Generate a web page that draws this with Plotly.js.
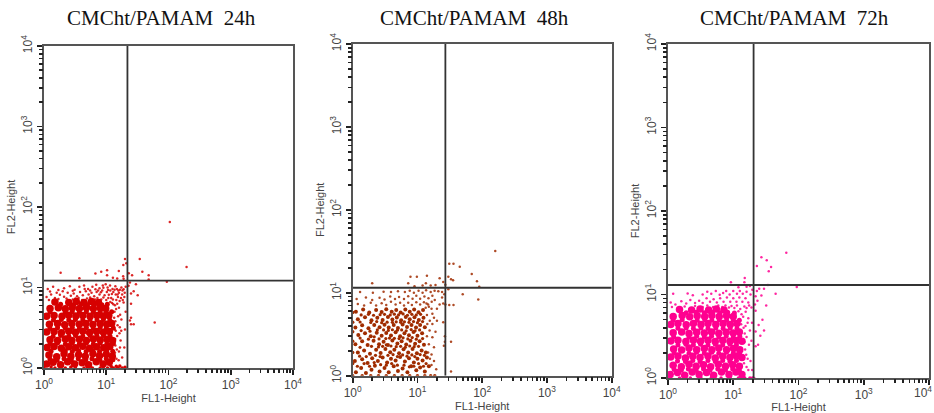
<!DOCTYPE html>
<html><head><meta charset="utf-8">
<script src="https://cdn.plot.ly/plotly-3.0.0.min.js"></script>
<style>html,body{margin:0;padding:0;background:#fff}</style></head>
<body><div id="chart" style="width:934px;height:413px"></div>
<script>
const panelTitles = ["CMCht/PAMAM  24h","CMCht/PAMAM  48h","CMCht/PAMAM  72h"];
const markerColors = ["#d60000","#a02c00","#ff0090"];
const gateX = [21.9, 27, 20.5];
const gateY = [12.2, 11.5, 13];
const majorTicks = [1,10,100,1000,10000];
const majorLabels = ["10<sup>0</sup>","10<sup>1</sup>","10<sup>2</sup>","10<sup>3</sup>","10<sup>4</sup>"];
const minorTicks = [2,3,4,5,6,7,8,9,20,30,40,50,60,70,80,90,200,300,400,500,600,700,800,900,2000,3000,4000,5000,6000,7000,8000,9000];

const core24 = [
[1.1,1.12],[1.4,1.18],[1.85,1.1],[2.4,1.2],[3.1,1.12],[4.1,1.16],[5.2,1.1],[6.9,1.2],[8.9,1.12],[11.2,1.18],
[1.2,1.45],[1.6,1.38],[2.1,1.5],[2.7,1.4],[3.6,1.46],[4.6,1.4],[6.1,1.5],[7.8,1.42],[10,1.48],[12.5,1.4],
[1.12,1.8],[1.45,1.85],[1.9,1.76],[2.5,1.84],[3.2,1.78],[4.2,1.86],[5.4,1.76],[7,1.84],[9.1,1.78],[11.4,1.85],
[1.25,2.25],[1.65,2.2],[2.2,2.3],[2.8,2.2],[3.7,2.28],[4.8,2.2],[6.2,2.3],[8,2.22],[10.3,2.28],[12.6,2.2],
[1.1,2.8],[1.45,2.85],[1.9,2.75],[2.5,2.86],[3.2,2.78],[4.2,2.86],[5.4,2.76],[7,2.84],[9,2.78],[11.2,2.84],
[1.22,3.5],[1.65,3.58],[2.15,3.45],[2.8,3.56],[3.7,3.5],[4.7,3.58],[6.1,3.46],[8,3.55],[10.2,3.5],[12.2,3.58],
[1.1,4.4],[1.45,4.5],[1.95,4.38],[2.5,4.52],[3.25,4.42],[4.2,4.5],[5.5,4.4],[7.1,4.5],[9,4.42],[11,4.5],
[1.25,5.5],[1.7,5.62],[2.2,5.45],[2.85,5.6],[3.7,5.5],[4.8,5.6],[6.2,5.48],[8,5.58],[9.8,5.5],
[1.5,6.6],[2.5,6.5],[3.3,6.7],[4.4,6.5],[5.8,6.7],[7.5,6.5]
];
const fill24 = [
[1.25,1.28],[1.62,1.25],[2.1,1.3],[2.75,1.26],[3.55,1.3],[4.7,1.27],[5.9,1.3],[7.9,1.27],[10,1.3],[12.8,1.27],
[1.3,1.62],[2.2,1.64],[2.85,1.6],[3.6,1.64],[4.75,1.6],[6.1,1.64],[7.8,1.6],[10.2,1.64],[12.7,1.62],
[1.25,2],[1.65,2.04],[2.2,1.98],[2.85,2.04],[3.7,2],[4.8,2.04],[6.2,1.98],[8,2.04],[10.2,2],[13,2.02],
[1.4,2.48],[1.85,2.54],[2.5,2.48],[3.2,2.54],[4.2,2.48],[5.5,2.54],[7.1,2.5],[9,2.54],[11.5,2.48],
[1.25,3.1],[1.65,3.16],[2.2,3.12],[2.85,3.18],[3.7,3.1],[4.8,3.16],[6.2,3.1],[8,3.18],[10,3.12],[13,3.14],
[1.42,3.96],[1.9,4],[2.5,3.94],[3.2,4],[4.2,3.94],[5.5,4],[7.1,3.94],[9,4],[11.4,3.96],
[1.25,4.96],[2.2,4.92],[2.85,5],[3.7,4.94],[4.8,5],[6.2,4.94],[8,5],[10,4.94],[12.2,5],
[1.85,6.2],[3,6.1],[3.9,6.24],[5,6.1],[6.5,6.24],[8.5,6.1],[10.4,6.2]
];
const fringe24 = [
[1.1,7.6],[1.3,8.2],[1.5,7.4],[1.8,8.1],[2.1,7.7],[2.4,8.6],[2.7,7.9],[3,8.4],[3.4,7.8],[3.8,8.8],[4.2,8],[4.7,9],[5.2,8.2],[5.8,8.6],[6.4,7.8],[7,8.8],[7.8,8.2],[8.6,9.2],[9.4,8],[10.2,8.8],[11,8.1],[12,7.4],[13,8.8],
[1.15,9.6],[1.4,10.2],[1.7,9.3],[2.1,9.8],[2.6,10.4],[3.1,9.4],[3.7,10.2],[4.4,10.6],[5.1,9.6],[6,10.2],[6.9,10.8],[7.8,9.8],[8.8,10.6],[9.8,11],[10.5,10],[11.5,10.6],[12.6,9.6],[14,10.4],[15.6,9.2],[17.5,10],[19,9.5],[20.5,10.2],
[1.85,15.2],[3.7,13],[6.7,14.9],[8.3,15.7],[10.3,16.4],[10.3,14.2],[15.9,16],[18.7,13.8],[12.8,13.2],[15,12.9],[19,12.8],
[20,22.6],[18.8,19],[21,20],[23,15],[26,14.2],[34.5,22.6],[38,15.7],[48,14.2],[48,12.6],[94,11.8],[195,18],[105,65],[60,3.67],
[30,11],[27.6,9],[25,8.4],[32,8],[25,6.3],[25,4.2],[25,3.5],[27.6,3.5],[24,3.9],[22.8,10.5],[24,11.5],
[13,6.2],[14.5,7],[16,5.6],[13.6,5],[15.5,4.4],[14,3.8],[16.5,3.2],[13.6,3],[15,2.5],[17,2.2],[14,1.9],[16,1.6],[18,1.35],[14.6,1.3],[17.5,4],[19,6.5],[18,8.2],[20,3],[20.5,5],[19.5,1.8],
[1.2,7],[1.7,7.2],[2.3,7.3],[2.9,7.1],[3.6,7.4],[4.1,7],[4.9,7.3],[5.5,7.5],[6.6,7.1],[7.2,7.4],[8.3,7.1],[9,7.5],[10,7],[10.8,7.4],[11.6,6.6],[12.4,6.4],[12.8,7.1],[13.8,6],[14.4,5.4],[15,6.3],[15.2,3.4],[13.4,4.2],[14.2,2.9],[13.9,2.3],[14.8,1.7],[13.8,1.55],[15.8,1.25],[16.6,1.8],[16.3,2.7],[17.4,2.9],[16.7,4.6],[16.4,6.8],[17.2,7.4],[15.4,7.6],[14.2,8.2],[16,8.6],
[1.25,8.9],[1.6,8.6],[2,9],[2.9,9.1],[3.2,7.3],[4.5,9.6],[5.5,9.2],[6.7,9.5],[7.4,9.2],[8.2,8.7],[9,9.9],[10.7,9.3],[11.6,9.2],[12.3,8.3],[13.6,9.4],[14.8,9.6],[15.2,8.2],[16.6,9.4],[18.2,9.2],[19.5,7.6],[18.4,7],[19.8,8.6]
];
const axisStrip24 = [[1,1],[1.5,1],[2.2,1],[3.2,1],[4.4,1],[6,1],[8,1],[10.5,1],[13,1],[15.5,1],[18,1],[20,1.02],[1.3,1.04],[2.7,1.03],[5,1.04],[9,1.04],[12,1.05],[14.5,1.05],[16.5,1.06]];

const core48 = [
[1.12,1.1],[1.35,1.24],[1.6,1.08],[1.95,1.18],[2.2,1.32],[2.6,1.12],[3.1,1.24],[3.6,1.1],[4.3,1.3],[5,1.14],[5.9,1.22],[7,1.1],[8,1.3],[9.6,1.16],[11,1.26],[13,1.12],[15,1.3],
[1.08,1.5],[1.4,1.58],[1.7,1.42],[2,1.62],[2.45,1.5],[2.9,1.66],[3.4,1.44],[3.9,1.6],[4.6,1.52],[5.4,1.68],[6.4,1.48],[7.4,1.62],[8.8,1.44],[10,1.6],[12,1.52],[14,1.66],
[1.2,1.9],[1.5,2.02],[1.85,1.84],[2.3,2.06],[2.7,1.88],[3.2,2.1],[3.8,1.92],[4.4,2.06],[5.2,1.86],[6.1,2.08],[7.2,1.9],[8.4,2.1],[9.8,1.86],[11.6,2.02],[13.5,1.9],
[1.1,2.4],[1.4,2.6],[1.7,2.34],[2.1,2.64],[2.55,2.4],[3,2.56],[3.5,2.34],[4.1,2.66],[4.9,2.44],[5.7,2.6],[6.7,2.38],[7.8,2.64],[9.2,2.42],[10.8,2.6],[12.6,2.36],
[1.22,3.1],[1.55,3.26],[1.9,3],[2.35,3.3],[2.8,3.04],[3.3,3.28],[3.9,3.06],[4.6,3.34],[5.4,3],[6.3,3.26],[7.4,3.08],[8.7,3.36],[10,3.04],[11.8,3.24],
[1.1,3.8],[1.4,4.06],[1.75,3.74],[2.15,4.1],[2.6,3.84],[3.1,4.12],[3.6,3.8],[4.3,4.08],[5,3.76],[5.9,4.14],[6.9,3.86],[8.1,4.1],[9.5,3.8],[11,4.08],[13,3.84],
[1.2,4.8],[1.55,5.06],[1.95,4.66],[2.4,5],[2.9,4.7],[3.5,5.1],[4.1,4.76],[4.8,5.04],[5.6,4.66],[6.6,5.1],[7.6,4.78],[9,5.06],[10.5,4.7],[12.4,5],
[1.12,5.9],[1.45,6.3],[1.8,5.8],[2.3,6.2],[2.8,5.86],[3.3,6.34],[4,5.9],[4.7,6.2],[5.5,5.8],[6.5,6.3],[7.6,5.9],[8.9,6.3],[10.4,5.84],[12.2,6.2]
];
const fill48 = [
[1.18,1.3],[1.5,1.4],[1.82,1.3],[2.15,1.44],[2.7,1.36],[3.3,1.34],[4,1.4],[4.9,1.34],[6.2,1.34],[7.5,1.28],[8.8,1.3],[10.4,1.4],[12.4,1.3],[13.6,1.4],
[1.28,1.72],[1.62,1.7],[2.25,1.76],[2.65,1.7],[3.5,1.76],[4.2,1.8],[4.9,1.7],[5.9,1.78],[6.9,1.72],[8.2,1.78],[9.1,1.7],[11,1.8],[12.8,1.76],
[1.3,2.2],[1.95,2.26],[2.5,2.22],[2.9,2.26],[3.3,2.36],[3.9,2.28],[4.7,2.24],[5.5,2.26],[6.5,2.2],[7.6,2.28],[8.9,2.24],[10.4,2.26],
[1.3,2.84],[1.75,2.76],[2.15,2.94],[2.55,2.78],[3.25,2.8],[3.7,2.84],[4.4,2.82],[5.2,2.8],[6,2.86],[7.1,2.78],[8.3,2.88],[9.6,2.76],[12,2.8],
[1.35,3.5],[1.85,3.44],[2.4,3.56],[3,3.56],[3.55,3.52],[4.1,3.58],[4.9,3.54],[5.7,3.56],[6.7,3.48],[8,3.6],[9.2,3.48],[10.8,3.56],
[1.3,4.44],[1.9,4.38],[2.35,4.5],[2.8,4.36],[3.4,4.42],[4.1,4.4],[4.7,4.46],[5.5,4.4],[6.3,4.46],[7.4,4.4],[8.7,4.5],[10,4.36],[12,4.5],
[1.35,5.4],[1.75,5.5],[2.1,5.36],[2.65,5.44],[3.1,5.5],[3.8,5.4],[4.4,5.52],[5.1,5.4],[6,5.56],[7,5.36],[8.2,5.5],[9.6,5.4],[11.2,5.5]
];
const fringe48 = [
[1.2,7.3],[1.5,7],[1.9,7.6],[2.3,7],[2.8,7.5],[3.3,7.1],[3.9,7.8],[4.6,7.2],[5.4,7.6],[6.2,7],[7.2,7.6],[8.2,7.1],[9.6,7.7],[11,7.2],[12.6,7.7],[14.6,7.2],[16.6,7.8],
[1.15,8.4],[1.6,8.8],[2,8.2],[2.6,8.7],[3.1,8.3],[3.8,9],[4.5,8.4],[5.2,8.9],[6.2,8.4],[7.2,9.1],[8.4,8.5],[9.6,9.2],[11,8.5],[12.8,9],[14.8,8.6],[17,9.2],[18.5,8.2],
[1.3,10.2],[2.05,10],[3,10.3],[3.9,10.2],[5,10.4],[6.4,10.2],[7.6,10.6],[8.8,10],[10.4,10.6],[12,10],[13.6,10.7],[16,10.2],[18.4,10.6],[21,10.4],[24,10.2],
[2,13],[7.2,13],[13.5,13],[7.8,15.6],[9.8,15.6],[14,16],[22,15],[25,13.5],[16,12.2],[12,12.2],[9,12],[19,12.4],[27,12.5],
[31,22.4],[36,22.4],[45,20.6],[69,16.8],[83,13.8],[90,11.8],[50,9.6],[87,8.3],[35.5,14.2],[30,15.6],[33,14.6],[30,11],[159,32],
[36,7.1],[31,7.1],[33,2.57],[33,1.12],[26.5,2.57],[26.5,3],[25.6,2.3],[25,4.4],[25,7.4],[27,7.2],[24,8.8],[26,9.6],
[16.5,6.4],[18,5],[17,4.2],[19,3.4],[17,2.9],[18,2.2],[16.5,1.8],[18,1.5],[19.5,1.2],[16.5,1.35],[20,6.4],[22,7.2],[20,4.6],
[14,5.4],[15.5,4.6],[14.2,4.2],[15.4,3.5],[14,3],[15,2.4],[14.6,1.9],[15.6,1.6],[13.4,6.6],[15,6.8],[17,5.6],[13.8,7.4]
];
const axisStrip48 = [[1,1],[1.4,1],[1.9,1],[2.5,1],[3.3,1],[4.4,1],[5.8,1],[7.6,1],[10,1],[13,1],[16,1],[18.5,1],[1,1.4],[1,1.9],[1,2.6],[1,3.4],[1,4.4],[1,5.8]];

const core72 = [
[1.08,1.1],[1.4,1.16],[1.8,1.08],[2.35,1.18],[3,1.1],[3.9,1.16],[5,1.08],[6.6,1.18],[8.6,1.1],[11,1.18],[13.6,1.1],
[1.2,1.42],[1.6,1.36],[2.1,1.46],[2.7,1.38],[3.5,1.44],[4.5,1.36],[5.9,1.46],[7.6,1.38],[9.8,1.44],[12.4,1.38],
[1.1,1.78],[1.42,1.84],[1.85,1.74],[2.4,1.82],[3.1,1.76],[4.1,1.84],[5.3,1.74],[6.9,1.82],[8.9,1.76],[11.2,1.84],[13.6,1.76],
[1.22,2.22],[1.62,2.16],[2.1,2.28],[2.75,2.18],[3.6,2.26],[4.7,2.18],[6,2.28],[7.9,2.18],[10.1,2.26],[12.6,2.18],
[1.1,2.78],[1.42,2.84],[1.88,2.74],[2.45,2.84],[3.15,2.76],[4.1,2.84],[5.3,2.74],[6.9,2.82],[8.9,2.76],[11.2,2.82],[13.6,2.76],
[1.2,3.48],[1.62,3.56],[2.1,3.42],[2.75,3.54],[3.6,3.46],[4.65,3.56],[6,3.44],[7.8,3.54],[10,3.46],[12.4,3.56],
[1.1,4.36],[1.42,4.48],[1.9,4.34],[2.45,4.5],[3.2,4.38],[4.1,4.5],[5.4,4.36],[7,4.48],[9,4.38],[11.4,4.48],
[1.2,5.44],[1.65,5.6],[2.15,5.4],[2.8,5.58],[3.65,5.46],[4.7,5.6],[6.1,5.44],[7.9,5.58],[10,5.46],
[1.5,6.6],[2.3,6.5],[3.1,6.7],[4.2,6.5],[5.5,6.7],[7.2,6.5]
];
const fill72 = [
[1.24,1.26],[1.6,1.24],[2.05,1.28],[2.7,1.24],[3.5,1.28],[4.4,1.24],[5.8,1.28],[7.6,1.25],[9.8,1.28],[12.4,1.24],
[1.4,1.6],[1.85,1.58],[2.4,1.62],[3.1,1.58],[4.1,1.62],[5.3,1.58],[6.9,1.62],[8.9,1.58],[11.2,1.62],
[1.24,2],[2.1,1.98],[2.75,2.04],[3.6,1.98],[4.7,2.04],[6,1.98],[7.9,2.04],[10,1.98],[12.6,2.02],
[1.42,2.48],[1.88,2.54],[2.45,2.48],[3.15,2.54],[4.1,2.48],[5.3,2.54],[6.9,2.48],[8.9,2.54],[11.2,2.48],
[1.22,3.12],[2.1,3.08],[2.75,3.16],[3.6,3.1],[4.65,3.16],[6,3.1],[7.8,3.16],[10,3.1],[12.6,3.16],
[1.42,3.94],[1.9,3.98],[2.45,3.92],[3.2,3.98],[4.1,3.92],[5.4,3.98],[7,3.92],[9,3.98],[11.4,3.92],
[1.2,4.92],[1.65,4.98],[2.8,4.92],[3.65,4.98],[4.7,4.92],[6.1,4.98],[7.9,4.92],[10,4.98],[12.4,4.92],
[1.9,6.05],[2.7,6.15],[3.6,6.05],[4.8,6.15],[6.2,6.05],[8.2,6.15],[10.4,6]
];
const fringe72 = [
[1.1,8],[1.3,7.6],[1.6,8.3],[1.9,7.8],[2.2,8.6],[2.6,7.9],[3,8.4],[3.4,7.9],[3.9,9],[4.4,8.2],[5,8.8],[5.6,8],[6.3,9],[7.1,8.2],[8,9.2],[9,8.2],[10,9],[11.2,8.2],[12.4,9.2],[13.8,8.2],[15.4,9],[17,8],
[1.2,10.2],[2,10.3],[2.4,9.8],[3.4,10],[4,10.8],[4.6,10.2],[5.4,11],[6.2,9.9],[7,10.4],[7.8,11],[8.8,10],[10,11],[11.4,10.2],[12.6,11],[14,10.2],[16,10.8],[18.4,10],[19.6,11.4],
[9.2,14],[15,15.8],[14.8,14],[12,12.2],[16,12.4],[18,12.6],
[65,31.6],[27,28],[23,22],[32.6,25.7],[38,21.4],[35,19],[94,12.3],[44.6,10.2],[34,13],[29.6,11.7],[25,11.7],[27,9.7],[22,9.5],[32,7.4],[28,5],[29.6,3.7],[26,3.2],[24,2.5],[22,2.4],[21,1],
[21.5,7.6],[23.5,8.4],[22,6.4],[23,11],[24.5,4.3],[22,3.6],
[15.5,6.2],[17,5.2],[15.4,4.2],[18,3.7],[16,3.1],[17.4,2.5],[15.8,1.9],[18.4,1.6],[16,1.35],[19.4,4.6],[19,7],[17.5,7.4],[19,2.8],[19.5,1.25],
[1.15,7.1],[1.8,7.2],[2.6,7.3],[3.4,7.1],[4,7.4],[4.9,7.1],[5.9,7.4],[6.8,7.1],[7.6,7.4],[8.6,7],[9.4,7.3],[10.4,6.9],[11.4,7.4],[12,6.3],[12.8,6.7],[13.4,5.8],[14.2,5.4],[13.2,4.4],[14.4,4],[15,3.4],[14.8,2.7],[15.2,2.2],[14.6,1.5],[16.6,1.7],[17,1.25],[16.6,4.6],[14.8,7.2],[16,6.9]
];
const axisStrip72 = [[1,1],[1.5,1],[2.2,1],[3.2,1],[4.6,1],[6.5,1],[9,1],[12,1],[15,1],[18,1],[19.8,1]];

const coreSets = [core24, core48, core72];
const fillSets = [fill24, fill48, fill72];
const fringeSets = [fringe24, fringe48, fringe72];
const stripSets = [axisStrip24, axisStrip48, axisStrip72];

const W = 934, H = 413;
const frames = [[44,293,46,368],[352.7,611.7,44,375.7],[668,929,44,378]];
const coreSize = [7.5, 4, 7.5];
const fillSize = [5, 3.2, 5];
const titleX = [161.5, 475, 794];

const traces = [], layout = {
  width: W, height: H, margin: {l:0,r:0,t:0,b:0}, showlegend:false,
  paper_bgcolor:"#fff", plot_bgcolor:"#fff",
  font:{family:"Liberation Sans, Arial, sans-serif", color:"#444"},
  annotations: panelTitles.map((t,i)=>({
    text:t, xref:"paper", yref:"paper", x:titleX[i]/W, y:1-18/H, showarrow:false,
    xanchor:"center", yanchor:"middle",
    font:{family:"Liberation Serif, Times New Roman, serif", size:21, color:"#111"}
  })).concat([{
    text:majorLabels[4], xref:"paper", yref:"paper", x:1, y:1-392/H, showarrow:false,
    xanchor:"right", yanchor:"middle", font:{size:12,color:"#444"}
  }])
};
frames.forEach((f,i)=>{
  const s = i===0 ? "" : String(i+1);
  const xa="x"+s, ya="y"+s;
  const base = {
    type:"log", autorange:false, range:[0,4], tickmode:"array", tickvals:majorTicks, ticktext:majorLabels,
    showgrid:false, zeroline:false, showline:true, mirror:true, linecolor:"#555", linewidth:2,
    ticks:"outside", ticklen:5, tickwidth:1.6, tickcolor:"#222",
    tickfont:{size:12, color:"#444"}
  };
  layout["xaxis"+s] = Object.assign({}, base, {
    domain:[f[0]/W, f[1]/W], anchor:ya,
    title:{text:"FL1-Height", font:{size:11,color:"#444"}, standoff:0}
  });
  layout["yaxis"+s] = Object.assign({}, base, {
    domain:[1-f[3]/H, 1-f[2]/H], anchor:xa, tickangle:-90,
    title:{text:"FL2-Height", font:{size:11,color:"#444"}, standoff:1}
  });
  // second axis pair that only carries the small ticks between decades
  const mx = String(i+4), my = String(i+4);
  const minorBase = {
    type:"log", autorange:false, range:[0,4], tickmode:"array", tickvals:minorTicks,
    showticklabels:false, showgrid:false, zeroline:false, showline:false,
    ticks:"outside", ticklen:4, tickwidth:1.6, tickcolor:"#222"
  };
  layout["xaxis"+mx] = Object.assign({}, minorBase, {domain:[f[0]/W, f[1]/W], anchor:"y"+my, overlaying:xa});
  layout["yaxis"+my] = Object.assign({}, minorBase, {domain:[1-f[3]/H, 1-f[2]/H], anchor:"x"+mx, overlaying:ya});
  const scat = (pts,size,op)=>({
    type:"scatter", mode:"markers", xaxis:xa, yaxis:ya, hoverinfo:"skip",
    x:pts.map(p=>p[0]), y:pts.map(p=>p[1]),
    marker:{color:markerColors[i], size, opacity:op, line:{width:0}}
  });
  traces.push(scat(coreSets[i], coreSize[i], 1));
  traces.push(scat(fillSets[i], fillSize[i], 1));
  traces.push(scat(stripSets[i], 3.5, 1));
  traces.push(scat(fringeSets[i], 2.5, 0.85));
  traces.push({type:"scatter",mode:"lines",xaxis:xa,yaxis:ya,hoverinfo:"skip",
    x:[gateX[i],gateX[i]],y:[1,10000],line:{color:"#333",width:1.8}});
  traces.push({type:"scatter",mode:"lines",xaxis:xa,yaxis:ya,hoverinfo:"skip",
    x:[1,10000],y:[gateY[i],gateY[i]],line:{color:"#333",width:1.8}});
  // places the tick-only axis pair on the page
  traces.push({type:"scatter",mode:"markers",xaxis:"x"+mx,yaxis:"y"+my,hoverinfo:"skip",
    x:[gateX[i]],y:[gateY[i]],marker:{size:1,color:"#333"}});
});
Plotly.newPlot("chart", traces, layout, {displayModeBar:false, staticPlot:true});
</script></body></html>
